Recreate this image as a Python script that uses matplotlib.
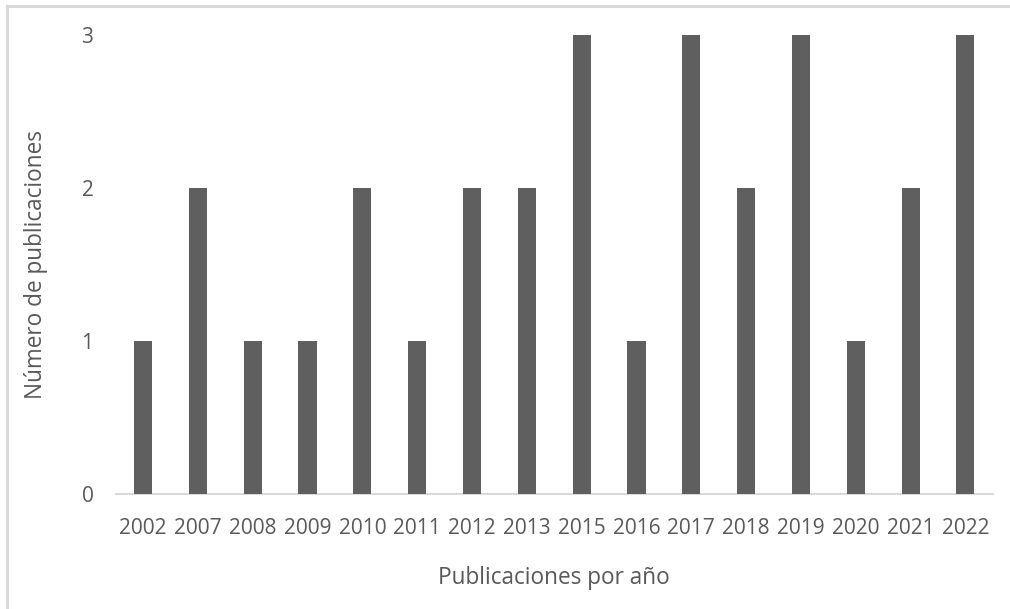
import matplotlib
matplotlib.use("Agg")
import matplotlib.pyplot as plt
from matplotlib.lines import Line2D

# publicaciones por año
anios = ["2002", "2007", "2008", "2009", "2010", "2011", "2012", "2013",
         "2015", "2016", "2017", "2018", "2019", "2020", "2021", "2022"]
publicaciones = [1, 2, 1, 1, 2, 1, 2, 2, 3, 1, 3, 2, 3, 1, 2, 3]
y_ticks = [0, 1, 2, 3]

plt.rcParams['font.family'] = ['Open Sans', 'DejaVu Sans']
texto = '#595959'

fig = plt.figure(figsize=(10.1, 6.09), dpi=100)
ax = fig.add_axes([0.1145, 0.1888, 0.8685, 0.7537])

x = list(range(len(anios)))
ax.bar(x, publicaciones, width=0.33, color='#5f5f5f', zorder=3)

ax.set_xlim(-0.5, len(anios) - 0.5)
ax.set_ylim(0, 3)
ax.set_xticks(x)
ax.set_xticklabels(anios)
ax.set_yticks(y_ticks)

for s in ['top', 'right', 'left']:
    ax.spines[s].set_visible(False)
ax.spines['bottom'].set_color('#d9d9d9')
ax.spines['bottom'].set_linewidth(1.5)

ax.tick_params(axis='both', length=0, labelsize=15, colors=texto)
ax.tick_params(axis='x', pad=17)
ax.tick_params(axis='y', pad=16)

ax.set_xlabel('Publicaciones por año', fontsize=16.3, color=texto, labelpad=20)
ax.set_ylabel('Número de publicaciones', fontsize=16.3, color=texto, labelpad=24)

# marco gris del gráfico (solo arriba e izquierda)
fig.add_artist(Line2D([7 / 1010, 1.0], [1 - 5.5 / 609, 1 - 5.5 / 609],
                      color='#d9d9d9', lw=2.2, transform=fig.transFigure))
fig.add_artist(Line2D([7 / 1010, 7 / 1010], [0, 1 - 5.5 / 609],
                      color='#d9d9d9', lw=2.2, transform=fig.transFigure))

fig.savefig('out.png', dpi=100)
